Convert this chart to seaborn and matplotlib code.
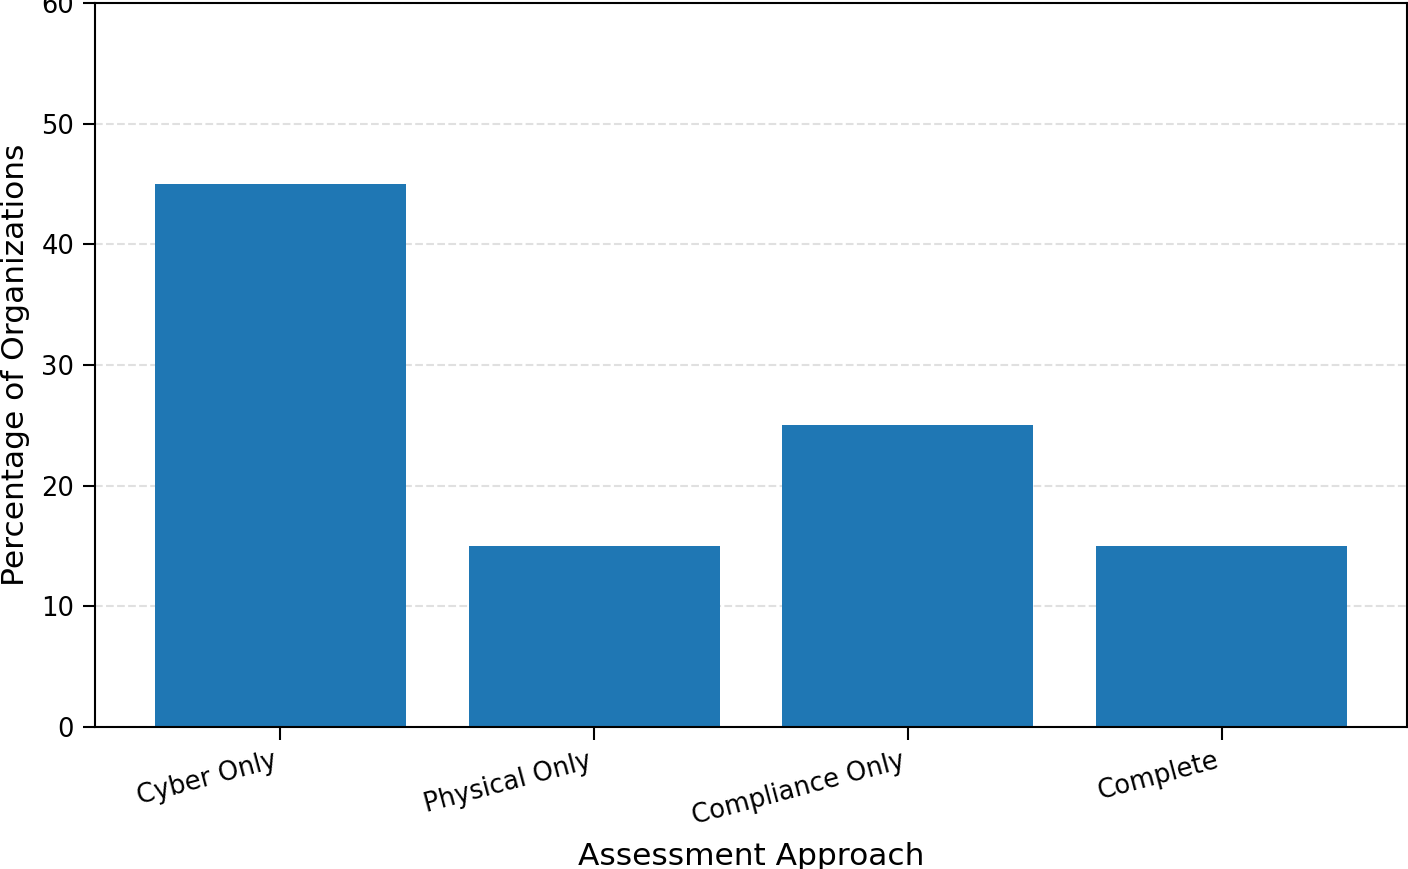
import matplotlib
matplotlib.use('Agg')
import matplotlib.pyplot as plt
import seaborn as sns
import pandas as pd

approaches = ['Cyber Only', 'Physical Only', 'Compliance Only', 'Complete']
percentages = [45, 15, 25, 15]

df = pd.DataFrame({'approach': approaches, 'pct': percentages})

fig = plt.figure(figsize=(14.08, 8.69), dpi=100)
ax = fig.add_axes([95/1408, 1 - 727/869, 1312/1408, 724/869])

sns.barplot(data=df, x='approach', y='pct', color='#1f77b4', saturation=1, width=0.8, ax=ax)

ax.set_xlim(-0.59, 3.59)
ax.set_ylim(0, 60)
ax.set_axisbelow(True)
ax.yaxis.grid(True, linestyle='--', color='#cccccc', alpha=0.6, linewidth=1.5)
ax.set_xlabel('Assessment Approach', fontsize=22.5, labelpad=9)
ax.set_ylabel('Percentage of Organizations', fontsize=22.5, labelpad=8)
ax.tick_params(axis='both', labelsize=18.5, length=9, width=1.5, pad=6)
plt.setp(ax.get_xticklabels(), rotation=15, ha='right')
for s in ax.spines.values():
    s.set_linewidth(1.5)

fig.savefig('out.png', dpi=100)
